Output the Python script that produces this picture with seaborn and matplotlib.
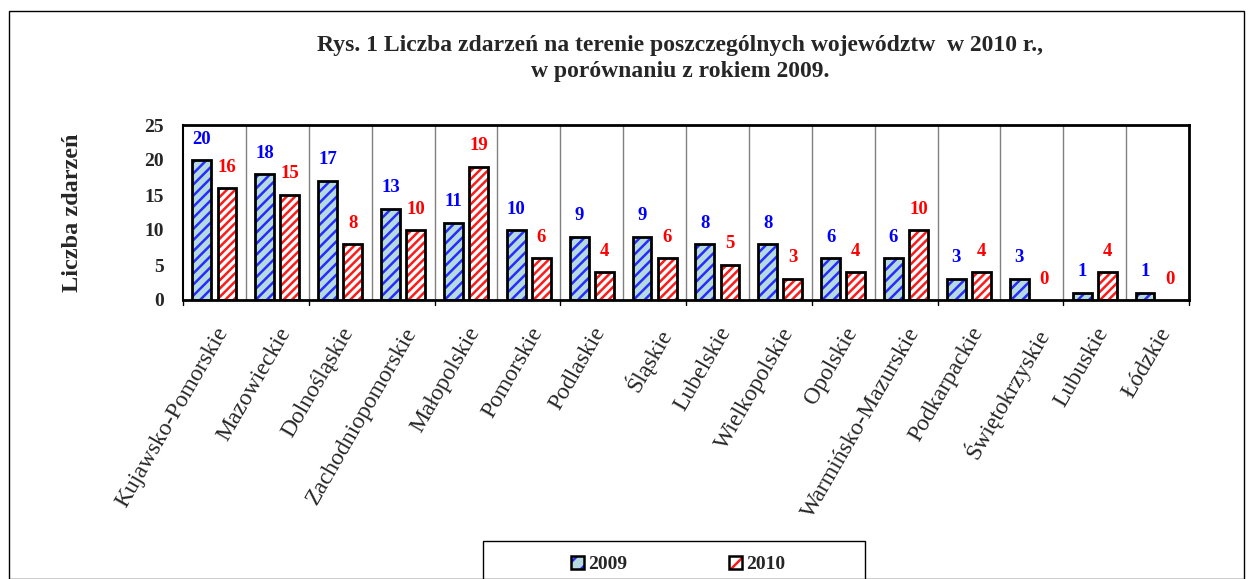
import numpy as np
import pandas as pd
import matplotlib
matplotlib.use('Agg')
import matplotlib.pyplot as plt
import seaborn as sns
from matplotlib.patches import Rectangle, Patch
from matplotlib.legend_handler import HandlerTuple

# Data
wojewodztwa = ['Kujawsko-Pomorskie', 'Mazowieckie', 'Dolnośląskie', 'Zachodniopomorskie',
               'Małopolskie', 'Pomorskie', 'Podlaskie', 'Śląskie', 'Lubelskie',
               'Wielkopolskie', 'Opolskie', 'Warmińsko-Mazurskie', 'Podkarpackie',
               'Świętokrzyskie', 'Lubuskie', 'Łódzkie']
zdarzenia_2009 = [20, 18, 17, 13, 11, 10, 9, 9, 8, 8, 6, 6, 3, 3, 1, 1]
zdarzenia_2010 = [16, 15, 8, 10, 19, 6, 4, 6, 5, 3, 4, 10, 4, 0, 4, 0]
lata = ['2009', '2010']

df = pd.DataFrame({
    'woj': wojewodztwa * 2,
    'rok': ['2009'] * len(wojewodztwa) + ['2010'] * len(wojewodztwa),
    'n': zdarzenia_2009 + zdarzenia_2010,
})

sns.set_style('white')
plt.rcParams['font.family'] = ['Liberation Serif', 'DejaVu Serif']
plt.rcParams['hatch.linewidth'] = 1.8

face = {'2009': '#b4dbe0', '2010': 'white'}
hatch_col = {'2009': '#2a2aff', '2010': '#ff1a1a'}
text_col = {'2009': '#0000ff', '2010': '#ff0000'}

fig = plt.figure(figsize=(12.53, 5.79), dpi=100)
ax = fig.add_axes([183 / 1253, 1 - 300 / 579, 1006 / 1253, 175 / 579])

sns.barplot(data=df, x='woj', y='n', hue='rok', order=wojewodztwa, hue_order=lata,
            width=0.8, gap=0.25, ax=ax, legend=False, edgecolor='black', linewidth=0)

n = len(wojewodztwa)
for i, p in enumerate(ax.patches[:2 * n]):
    rok = lata[i // n]
    p.set_hatch('///' if rok == '2009' else '////')
    p.set_facecolor(face[rok])
    p.set_edgecolor(hatch_col[rok])  # hatch follows the edge colour
    # black outline on top
    if p.get_height() > 0:
        ax.add_patch(Rectangle(p.get_xy(), p.get_width(), p.get_height(),
                               fill=False, edgecolor='black', linewidth=2, zorder=3))
    ax.annotate(f'{int(p.get_height())}',
                (p.get_x() + p.get_width() / 2, p.get_height()),
                xytext=(0, 9), textcoords='offset points', ha='center', va='bottom',
                color=text_col[rok], fontsize=13.5, fontweight='bold')

ax.set_ylim(0, 25)
ax.set_xlim(-0.5, n - 0.5)
ax.set_yticks(range(0, 26, 5))
ax.tick_params(axis='y', labelsize=14, length=0, pad=14)
for t in ax.get_yticklabels():
    t.set_fontweight('bold')

# category separators
for k in range(1, n):
    ax.axvline(k - 0.5, color='#808080', linewidth=1, zorder=0)

ax.set_xticks(range(n))
ax.set_xticklabels(wojewodztwa, rotation=60, ha='right', rotation_mode='anchor', fontsize=17)
ax.tick_params(axis='x', length=0, pad=17)
for k in range(0, n + 1, 2):
    ax.plot([k - 0.5, k - 0.5], [0, -0.03], transform=ax.get_xaxis_transform(),
            color='black', linewidth=1, clip_on=False)

ax.set_xlabel('')
ax.set_ylabel('Liczba zdarzeń', fontsize=17.5, fontweight='bold', labelpad=44)
for side in ['top', 'right', 'bottom']:
    ax.spines[side].set_visible(True)
    ax.spines[side].set_linewidth(2)
    ax.spines[side].set_color('black')
ax.spines['left'].set_linewidth(1.5)
ax.spines['left'].set_color('black')

fig.text(0.543, 1 - 45 / 579, 'Rys. 1 Liczba zdarzeń na terenie poszczególnych województw  w 2010 r.,',
         ha='center', va='center', fontsize=17, fontweight='bold')
fig.text(0.543, 1 - 72 / 579, 'w porównaniu z rokiem 2009.',
         ha='center', va='center', fontsize=17, fontweight='bold')

handles = [(Patch(facecolor=face[r], edgecolor=hatch_col[r], hatch='//', linewidth=0),
            Patch(fill=False, edgecolor='black', linewidth=1.8)) for r in lata]
leg = fig.legend(handles, lata, loc='upper center', ncol=2,
                 bbox_to_anchor=(678 / 1253, 1 - 548 / 579), frameon=False,
                 handler_map={tuple: HandlerTuple(ndivide=1)},
                 prop={'weight': 'bold', 'size': 14}, handlelength=0.7, handleheight=0.7,
                 handletextpad=0.2, columnspacing=5.2, borderaxespad=0)
leg.set_in_layout(False)

# legend frame (cut by the lower figure edge like in the original)
fig.patches.append(Rectangle((483 / 1253, -0.02), 382 / 1253, 0.02 + 1 - 541 / 579,
                             transform=fig.transFigure, fill=False, edgecolor='black', linewidth=1))

# outer border
fig.patches.append(Rectangle((9 / 1253, 0), 1 - 18 / 1253, 1 - 11 / 579, transform=fig.transFigure,
                             fill=False, edgecolor='black', linewidth=1))

fig.savefig('out.png', dpi=100)
